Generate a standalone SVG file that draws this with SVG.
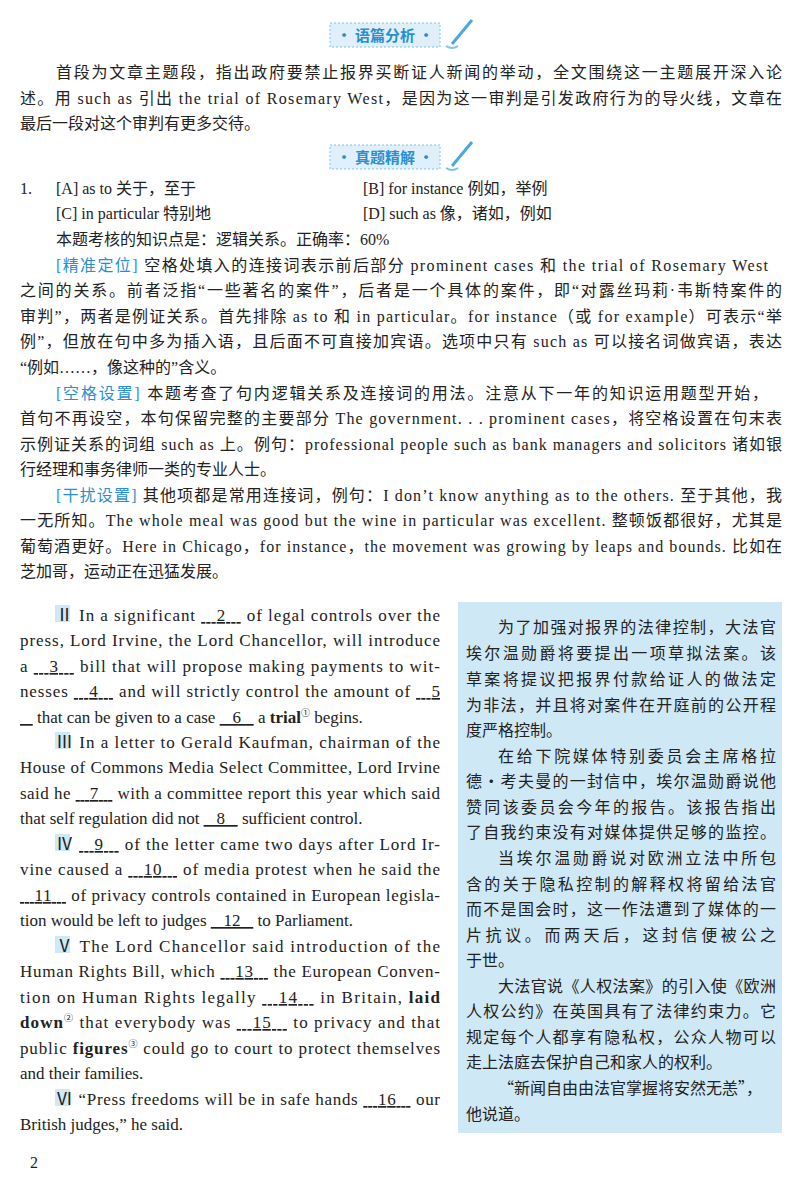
<svg xmlns="http://www.w3.org/2000/svg" width="800" height="1185" viewBox="0 0 800 1185">
<style>
text{font-family:"Liberation Serif","Noto Sans CJK SC",serif;font-size:16px;fill:#222}
#left text{font-size:17px}
.bl{fill:#2a8fd0}
.u{text-decoration:underline}
.b{font-weight:bold}
.h{font-family:"Noto Sans CJK SC",sans-serif;font-size:15px;fill:#2a8fd0;font-weight:bold}
.rb{font-family:"Noto Sans CJK SC",sans-serif;font-size:16px}
#left .sup{font-size:9px}
</style>
<rect width="800" height="1185" fill="#fff"/>
<g id="hdr1">
<rect x="330" y="23" width="110" height="24" fill="#dff0fa" stroke="#7cc4ea" stroke-dasharray="2,2"/>
<text x="385" y="41" class="h" text-anchor="middle">· 语篇分析 ·</text>
<path d="M472 20 L452 44" stroke="#4aa8de" stroke-width="3"/><path d="M446 46 q6 4 12 0" stroke="#7cc4ea" fill="none" stroke-width="2"/>
</g>
<g id="hdr2">
<rect x="330" y="145" width="110" height="24" fill="#dff0fa" stroke="#7cc4ea" stroke-dasharray="2,2"/>
<text x="385" y="163" class="h" text-anchor="middle">· 真题精解 ·</text>
<path d="M472 142 L452 166" stroke="#4aa8de" stroke-width="3"/><path d="M446 168 q6 4 12 0" stroke="#7cc4ea" fill="none" stroke-width="2"/>
</g>
<g id="top">
<text x="56" y="78" textLength="726" lengthAdjust="spacing">首段为文章主题段，指出政府要禁止报界买断证人新闻的举动，全文围绕这一主题展开深入论</text>
<text x="20" y="104" textLength="762" lengthAdjust="spacing">述。用 such as 引出 the trial of Rosemary West，是因为这一审判是引发政府行为的导火线，文章在</text>
<text x="20" y="129">最后一段对这个审判有更多交待。</text>
<text x="20" y="194">1.</text><text x="56" y="194" font-size="17">[A] as to 关于，至于</text><text x="363" y="194" font-size="17">[B] for instance 例如，举例</text>
<text x="56" y="219" font-size="17">[C] in particular 特别地</text><text x="363" y="219" font-size="17">[D] such as 像，诸如，例如</text>
<text x="56" y="245">本题考核的知识点是：逻辑关系。正确率：60%</text>
<text x="56" y="271" textLength="712" lengthAdjust="spacing"><tspan class="bl">[精准定位]</tspan> 空格处填入的连接词表示前后部分 prominent cases 和 the trial of Rosemary West</text>
<text x="20" y="296" textLength="762" lengthAdjust="spacing">之间的关系。前者泛指“一些著名的案件”，后者是一个具体的案件，即“对露丝玛莉·韦斯特案件的</text>
<text x="20" y="322" textLength="762" lengthAdjust="spacing">审判”，两者是例证关系。首先排除 as to 和 in particular。for instance（或 for example）可表示“举</text>
<text x="20" y="347" textLength="762" lengthAdjust="spacing">例”，但放在句中多为插入语，且后面不可直接加宾语。选项中只有 such as 可以接名词做宾语，表达</text>
<text x="20" y="373">“例如……，像这种的”含义。</text>
<text x="56" y="399" textLength="712" lengthAdjust="spacing"><tspan class="bl">[空格设置]</tspan> 本题考查了句内逻辑关系及连接词的用法。注意从下一年的知识运用题型开始，</text>
<text x="20" y="424" textLength="762" lengthAdjust="spacing">首句不再设空，本句保留完整的主要部分 The government. . . prominent cases，将空格设置在句末表</text>
<text x="20" y="450" textLength="762" lengthAdjust="spacing">示例证关系的词组 such as 上。例句：professional people such as bank managers and solicitors 诸如银</text>
<text x="20" y="475">行经理和事务律师一类的专业人士。</text>
<text x="56" y="501" textLength="726" lengthAdjust="spacing"><tspan class="bl">[干扰设置]</tspan> 其他项都是常用连接词，例句：I don’t know anything as to the others. 至于其他，我</text>
<text x="20" y="526" textLength="762" lengthAdjust="spacing">一无所知。The whole meal was good but the wine in particular was excellent. 整顿饭都很好，尤其是</text>
<text x="20" y="552" textLength="762" lengthAdjust="spacing">葡萄酒更好。Here in Chicago，for instance，the movement was growing by leaps and bounds. 比如在</text>
<text x="20" y="577">芝加哥，运动正在迅猛发展。</text>
</g>
<g id="left">
<rect x="55" y="605" width="15" height="17" fill="#cfe8f5"/>
<rect x="55" y="732" width="15" height="17" fill="#cfe8f5"/>
<rect x="55" y="834" width="15" height="17" fill="#cfe8f5"/>
<rect x="55" y="936" width="15" height="17" fill="#cfe8f5"/>
<rect x="55" y="1089" width="15" height="17" fill="#cfe8f5"/>
<text x="56" y="621" textLength="384" lengthAdjust="spacing">Ⅱ In a significant <tspan class="u">&#160;&#160;&#160;2&#160;&#160;&#160;</tspan> of legal controls over the</text>
<text x="20" y="646" textLength="420" lengthAdjust="spacing">press, Lord Irvine, the Lord Chancellor, will introduce</text>
<text x="20" y="672" textLength="420" lengthAdjust="spacing">a <tspan class="u">&#160;&#160;&#160;3&#160;&#160;&#160;</tspan> bill that will propose making payments to wit-</text>
<text x="20" y="697" textLength="420" lengthAdjust="spacing">nesses <tspan class="u">&#160;&#160;&#160;4&#160;&#160;&#160;</tspan> and will strictly control the amount of <tspan class="u">&#160;&#160;&#160;5</tspan></text>
<text x="20" y="723"><tspan class="u">&#160;&#160;&#160;</tspan> that can be given to a case <tspan class="u">&#160;&#160;&#160;6&#160;&#160;&#160;</tspan> a <tspan class="b">trial</tspan><tspan class="sup" dy="-7">①</tspan><tspan dy="7"> begins.</tspan></text>
<text x="56" y="748" textLength="384" lengthAdjust="spacing">Ⅲ In a letter to Gerald Kaufman, chairman of the</text>
<text x="20" y="773" textLength="420" lengthAdjust="spacing">House of Commons Media Select Committee, Lord Irvine</text>
<text x="20" y="799" textLength="420" lengthAdjust="spacing">said he <tspan class="u">&#160;&#160;&#160;7&#160;&#160;&#160;</tspan> with a committee report this year which said</text>
<text x="20" y="824">that self regulation did not <tspan class="u">&#160;&#160;&#160;8&#160;&#160;&#160;</tspan> sufficient control.</text>
<text x="56" y="850" textLength="384" lengthAdjust="spacing">Ⅳ <tspan class="u">&#160;&#160;&#160;9&#160;&#160;&#160;</tspan> of the letter came two days after Lord Ir-</text>
<text x="20" y="875" textLength="420" lengthAdjust="spacing">vine caused a <tspan class="u">&#160;&#160;&#160;10&#160;&#160;&#160;</tspan> of media protest when he said the</text>
<text x="20" y="901" textLength="420" lengthAdjust="spacing"><tspan class="u">&#160;&#160;&#160;11&#160;&#160;&#160;</tspan> of privacy controls contained in European legisla-</text>
<text x="20" y="926">tion would be left to judges <tspan class="u">&#160;&#160;&#160;12&#160;&#160;&#160;</tspan> to Parliament.</text>
<text x="56" y="952" textLength="384" lengthAdjust="spacing">Ⅴ The Lord Chancellor said introduction of the</text>
<text x="20" y="977" textLength="420" lengthAdjust="spacing">Human Rights Bill, which <tspan class="u">&#160;&#160;&#160;13&#160;&#160;&#160;</tspan> the European Conven-</text>
<text x="20" y="1003" textLength="420" lengthAdjust="spacing">tion on Human Rights legally <tspan class="u">&#160;&#160;&#160;14&#160;&#160;&#160;</tspan> in Britain, <tspan class="b">laid</tspan></text>
<text x="20" y="1028" textLength="420" lengthAdjust="spacing"><tspan class="b">down</tspan><tspan class="sup" dy="-7">②</tspan><tspan dy="7"> that everybody was </tspan><tspan class="u">&#160;&#160;&#160;15&#160;&#160;&#160;</tspan> to privacy and that</text>
<text x="20" y="1054" textLength="420" lengthAdjust="spacing">public <tspan class="b">figures</tspan><tspan class="sup" dy="-7">③</tspan><tspan dy="7"> could go to court to protect themselves</tspan></text>
<text x="20" y="1079">and their families.</text>
<text x="56" y="1105" textLength="384" lengthAdjust="spacing">Ⅵ “Press freedoms will be in safe hands <tspan class="u">&#160;&#160;&#160;16&#160;&#160;&#160;</tspan> our</text>
<text x="20" y="1130">British judges,” he said.</text>
</g>
<g id="right">
<rect x="458" y="602" width="324" height="531" fill="#cfe8f5"/>
<text class="rb" x="498" y="633" textLength="278" lengthAdjust="spacing">为了加强对报界的法律控制，大法官</text>
<text class="rb" x="466" y="659" textLength="310" lengthAdjust="spacing">埃尔温勋爵将要提出一项草拟法案。该</text>
<text class="rb" x="466" y="685" textLength="310" lengthAdjust="spacing">草案将提议把报界付款给证人的做法定</text>
<text class="rb" x="466" y="711" textLength="310" lengthAdjust="spacing">为非法，并且将对案件在开庭前的公开程</text>
<text class="rb" x="466" y="736">度严格控制。</text>
<text class="rb" x="498" y="762" textLength="278" lengthAdjust="spacing">在给下院媒体特别委员会主席格拉</text>
<text class="rb" x="466" y="787" textLength="310" lengthAdjust="spacing">德·考夫曼的一封信中，埃尔温勋爵说他</text>
<text class="rb" x="466" y="813" textLength="310" lengthAdjust="spacing">赞同该委员会今年的报告。该报告指出</text>
<text class="rb" x="466" y="838" textLength="310" lengthAdjust="spacing">了自我约束没有对媒体提供足够的监控。</text>
<text class="rb" x="498" y="864" textLength="278" lengthAdjust="spacing">当埃尔温勋爵说对欧洲立法中所包</text>
<text class="rb" x="466" y="890" textLength="310" lengthAdjust="spacing">含的关于隐私控制的解释权将留给法官</text>
<text class="rb" x="466" y="915" textLength="310" lengthAdjust="spacing">而不是国会时，这一作法遭到了媒体的一</text>
<text class="rb" x="466" y="941" textLength="310" lengthAdjust="spacing">片抗议。而两天后，这封信便被公之</text>
<text class="rb" x="466" y="966">于世。</text>
<text class="rb" x="498" y="992" textLength="278" lengthAdjust="spacing">大法官说《人权法案》的引入使《欧洲</text>
<text class="rb" x="466" y="1017" textLength="310" lengthAdjust="spacing">人权公约》在英国具有了法律约束力。它</text>
<text class="rb" x="466" y="1043" textLength="310" lengthAdjust="spacing">规定每个人都享有隐私权，公众人物可以</text>
<text class="rb" x="466" y="1068">走上法庭去保护自己和家人的权利。</text>
<text class="rb" x="498" y="1094">“新闻自由由法官掌握将安然无恙”，</text>
<text class="rb" x="466" y="1120">他说道。</text>
</g>
<text x="30" y="1168" font-size="17">2</text>
</svg>
